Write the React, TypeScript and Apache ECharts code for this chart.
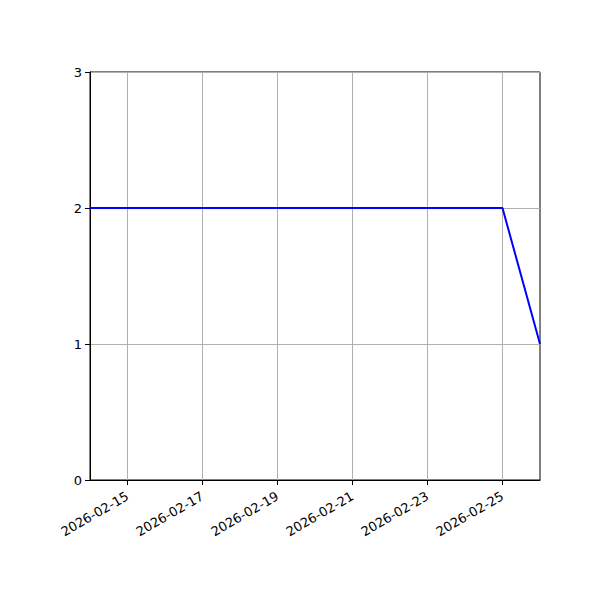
import React, { useEffect, useRef } from 'react';
import * as echarts from 'echarts';

// one point per day
const dates = [
  '2026-02-14', '2026-02-15', '2026-02-16', '2026-02-17', '2026-02-18',
  '2026-02-19', '2026-02-20', '2026-02-21', '2026-02-22', '2026-02-23',
  '2026-02-24', '2026-02-25', '2026-02-26'
];
const values = [2, 2, 2, 2, 2, 2, 2, 2, 2, 2, 2, 2, 1];
const yTicks = [0, 1, 2, 3];

const FONT = 'DejaVu Sans';
const everyOther = (index: number) => index % 2 === 1;

export default function App() {
  const chartRef = useRef<HTMLDivElement>(null);

  useEffect(() => {
    if (!chartRef.current) return;
    const chart = echarts.init(chartRef.current, undefined, { renderer: 'svg' });

    const option: echarts.EChartsOption = {
      animation: false,
      backgroundColor: '#ffffff',
      textStyle: { fontFamily: FONT },
      grid: {
        left: 90,
        right: 60,
        top: 72,
        bottom: 120,
        show: true,
        borderColor: '#000000',
        borderWidth: 1,
        backgroundColor: 'transparent'
      },
      xAxis: {
        type: 'category',
        data: dates,
        boundaryGap: false,
        axisLine: { lineStyle: { color: '#000000', width: 1 } },
        axisTick: {
          inside: false,
          length: 5,
          interval: everyOther,
          lineStyle: { color: '#000000' }
        },
        axisLabel: {
          interval: everyOther,
          rotate: 30,
          color: '#000000',
          fontSize: 13,
          fontFamily: FONT,
          margin: 15
        },
        splitLine: {
          show: true,
          interval: everyOther,
          lineStyle: { color: '#b0b0b0', width: 1 }
        }
      },
      yAxis: {
        type: 'value',
        min: yTicks[0],
        max: yTicks[yTicks.length - 1],
        interval: 1,
        axisLine: { show: true, lineStyle: { color: '#000000', width: 1 } },
        axisTick: { show: true, length: 5, lineStyle: { color: '#000000' } },
        axisLabel: { color: '#000000', fontSize: 13, fontFamily: FONT, margin: 8 },
        splitLine: { show: true, lineStyle: { color: '#b0b0b0', width: 1 } }
      },
      series: [
        {
          type: 'line',
          data: values,
          showSymbol: false,
          symbol: 'none',
          lineStyle: { color: '#0000ff', width: 2 },
          itemStyle: { color: '#0000ff' }
        }
      ]
    };

    chart.setOption(option);

    return () => {
      chart.dispose();
    };
  }, []);

  return (
    <div
      ref={chartRef}
      style={{ position: 'fixed', left: 0, top: 0, width: '600px', height: '600px' }}
    />
  );
}
